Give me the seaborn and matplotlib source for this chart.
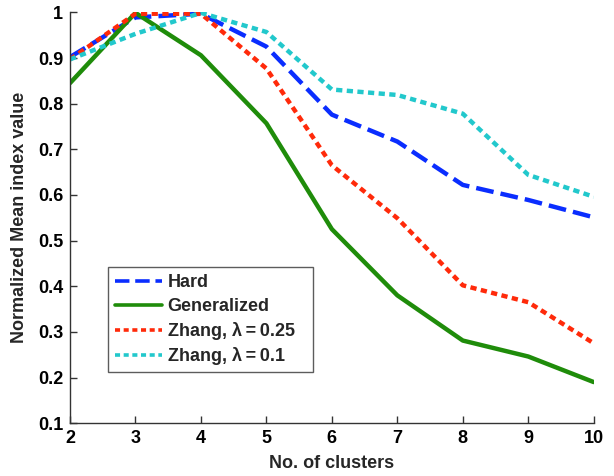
import matplotlib
matplotlib.use("Agg")
import matplotlib.pyplot as plt
import seaborn as sns
import pandas as pd

# Number of clusters evaluated
clusters = [2, 3, 4, 5, 6, 7, 8, 9, 10]

# Normalized mean index value per method
hard = [0.902, 0.989, 0.997, 0.925, 0.776, 0.717, 0.622, 0.589, 0.551]
generalized = [0.845, 0.999, 0.906, 0.757, 0.525, 0.380, 0.281, 0.246, 0.190]
zhang_025 = [0.897, 0.997, 0.997, 0.877, 0.665, 0.549, 0.402, 0.365, 0.275]
zhang_01 = [0.897, 0.953, 0.999, 0.957, 0.831, 0.819, 0.778, 0.644, 0.596]

series_names = ["Hard", "Generalized",
                "Zhang, λ\u2009=\u20090.25", "Zhang, λ\u2009=\u20090.1"]
series_values = [hard, generalized, zhang_025, zhang_01]

rows = []
for name, vals in zip(series_names, series_values):
    for x, v in zip(clusters, vals):
        rows.append({"clusters": x, "value": v, "method": name})
df = pd.DataFrame(rows)

sns.set_theme(style="ticks")
plt.rcParams["font.family"] = ["Liberation Sans", "DejaVu Sans"]
plt.rcParams["font.weight"] = "bold"

FS = 13

fig = plt.figure(figsize=(6.14, 4.76), dpi=100)
ax = fig.add_axes([0.114, 0.111, 0.853, 0.863])

colors = ["#0a2dff", "#1f8c0a", "#ff2a0a", "#22c8cc"]
dash_patterns = [(4.0, 1.6), None, (1.4, 1.0), (1.4, 1.0)]

for name, color, dsh in zip(series_names, colors, dash_patterns):
    sub = df[df["method"] == name]
    sns.lineplot(data=sub, x="clusters", y="value", ax=ax,
                 color=color, lw=3.2, label=name, legend=False)
    l = ax.lines[-1]
    if dsh is not None:
        l.set_dashes(dsh)
        l.set_dash_capstyle("butt")

ax.set_xlim(2, 10)
ax.set_ylim(0.1, 1.0)
ax.set_xticks(clusters)
ax.set_xticklabels([str(c) for c in clusters])
yticks = [0.1, 0.2, 0.3, 0.4, 0.5, 0.6, 0.7, 0.8, 0.9, 1.0]
ax.set_yticks(yticks)
ax.set_yticklabels(["0.1", "0.2", "0.3", "0.4", "0.5", "0.6", "0.7", "0.8", "0.9", "1"])

for side in ["top", "right"]:
    ax.spines[side].set_visible(False)
for side in ["left", "bottom"]:
    ax.spines[side].set_color("#333333")
    ax.spines[side].set_linewidth(1.0)

ax.tick_params(direction="in", length=5, width=1, colors="#333333",
               labelcolor="black", labelsize=FS, pad=5)
for lbl in ax.get_xticklabels() + ax.get_yticklabels():
    lbl.set_fontweight("bold")

ax.set_xlabel("No. of clusters", fontsize=FS, fontweight="bold", labelpad=6)
ax.set_ylabel("Normalized Mean index value", fontsize=FS, fontweight="bold", labelpad=7)

leg = ax.legend(loc="lower left", bbox_to_anchor=(0.0725, 0.124, 0.391, 0.3),
                mode="expand", borderaxespad=0,
                frameon=True, fancybox=False, fontsize=FS, handlelength=2.6,
                handletextpad=0.3, labelspacing=0.38, borderpad=0.4)
leg.get_frame().set_edgecolor("#333333")
leg.get_frame().set_linewidth(1.0)
for t in leg.get_texts():
    t.set_fontweight("bold")
for h in leg.get_lines():
    h.set_linewidth(2.6)

fig.savefig("out.png", dpi=100)
